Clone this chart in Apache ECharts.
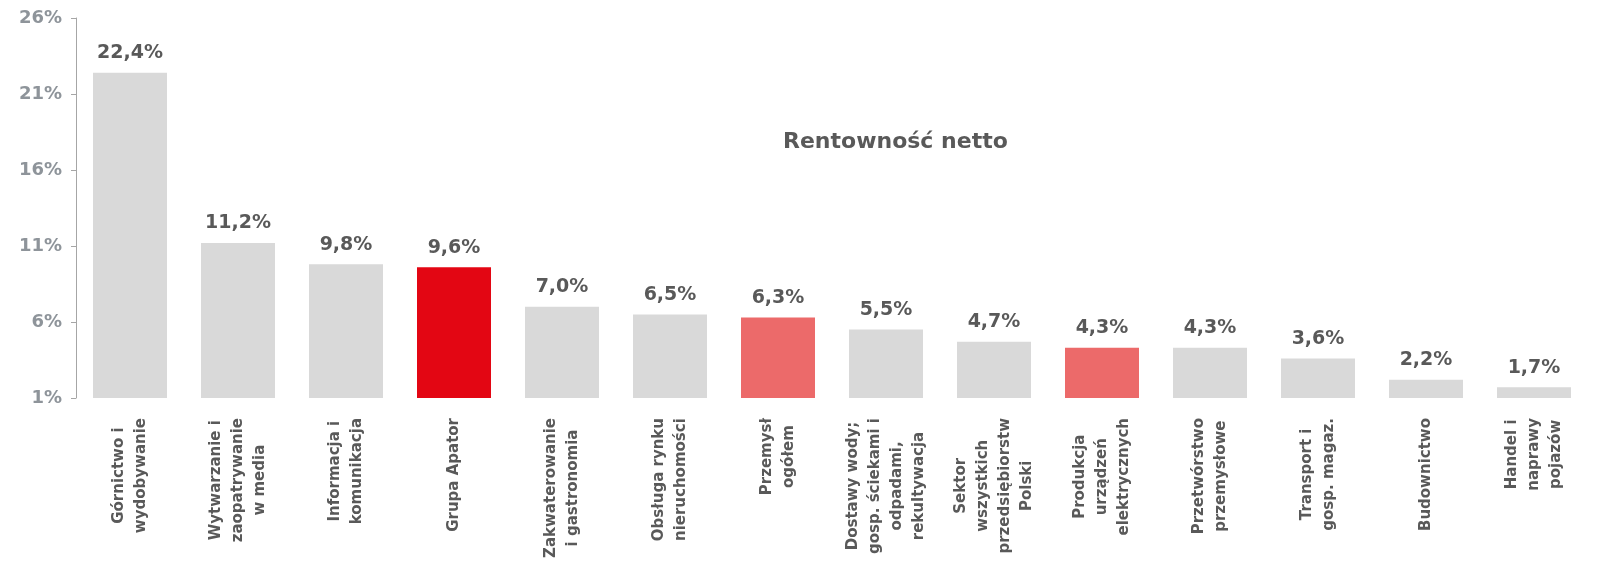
<!DOCTYPE html>
<html>
<head>
<meta charset="utf-8">
<script src="https://cdn.jsdelivr.net/npm/echarts@6/dist/echarts.min.js"></script>
<style>
html,body{margin:0;padding:0;background:#fff;}
#chart{width:1614px;height:568px;}
</style>
</head>
<body>
<div id="chart"></div>
<script>
const categories = [
  "Górnictwo i\nwydobywanie",
  "Wytwarzanie i\nzaopatrywanie\nw media",
  "Informacja i\nkomunikacja",
  "Grupa Apator",
  "Zakwaterowanie\ni gastronomia",
  "Obsługa rynku\nnieruchomości",
  "Przemysł\nogółem",
  "Dostawy wody;\ngosp. ściekami i\nodpadami,\nrekultywacja",
  "Sektor\nwszystkich\nprzedsiębiorstw\nPolski",
  "Produkcja\nurządzeń\nelektrycznych",
  "Przetwórstwo\nprzemysłowe",
  "Transport i\ngosp. magaz.",
  "Budownictwo",
  "Handel i\nnaprawy\npojazów"
];
const values = [22.4, 11.2, 9.8, 9.6, 7.0, 6.5, 6.3, 5.5, 4.7, 4.3, 4.3, 3.6, 2.2, 1.7];
const yTicks = [1, 6, 11, 16, 21, 26];
const title = "Rentowność netto";

const GRAY = '#D9D9D9';
const highlightColors = {
  "Grupa Apator": '#E30613',
  "Przemysł\nogółem": '#EC6A6A',
  "Produkcja\nurządzeń\nelektrycznych": '#EC6A6A'
};

const chart = echarts.init(document.getElementById('chart'), null, {renderer: 'canvas'});
const FONT = '"DejaVu Sans", Verdana, sans-serif';

chart.setOption({
  animation: false,
  backgroundColor: '#fff',
  title: {
    text: title,
    left: 778,
    top: 126,
    textStyle: {fontFamily: FONT, fontWeight: 'bold', fontSize: 22, color: '#595959'}
  },
  grid: {left: 76, right: 26, top: 18, bottom: 170, containLabel: false},
  xAxis: {
    type: 'category',
    data: categories,
    axisLine: {show: false},
    axisTick: {show: false},
    axisLabel: {
      interval: 0,
      rotate: 90,
      margin: 20,
      fontFamily: FONT,
      fontWeight: 'bold',
      fontSize: 15,
      color: '#595959',
      lineHeight: 22,
      formatter: function (v) {
        return v.split('\n').map(function (l) { return '{c|' + l + '}'; }).join('\n');
      },
      rich: {
        c: {align: 'center', fontFamily: FONT, fontWeight: 'bold', fontSize: 15, color: '#595959', lineHeight: 22}
      }
    }
  },
  yAxis: {
    type: 'value',
    min: 1,
    max: 26,
    interval: 5,
    splitLine: {show: false},
    axisLine: {show: true, lineStyle: {color: '#A6A6A6', width: 1}},
    axisTick: {show: true, inside: false, length: 5, lineStyle: {color: '#A6A6A6'}, customValues: yTicks},
    axisLabel: {
      margin: 14,
      fontFamily: FONT,
      fontWeight: 'bold',
      fontSize: 18,
      color: '#8E949A',
      customValues: yTicks,
      formatter: function (v) { return v + '%'; }
    }
  },
  series: [{
    type: 'bar',
    barWidth: 74,
    data: values.map(function (v, i) {
      return {value: v, itemStyle: {color: highlightColors[categories[i]] || GRAY}};
    }),
    label: {
      show: true,
      position: 'top',
      distance: 10,
      fontFamily: FONT,
      fontWeight: 'bold',
      fontSize: 19,
      color: '#595959',
      formatter: function (p) { return p.value.toFixed(1).replace('.', ',') + '%'; }
    }
  }]
});
</script>
</body>
</html>
